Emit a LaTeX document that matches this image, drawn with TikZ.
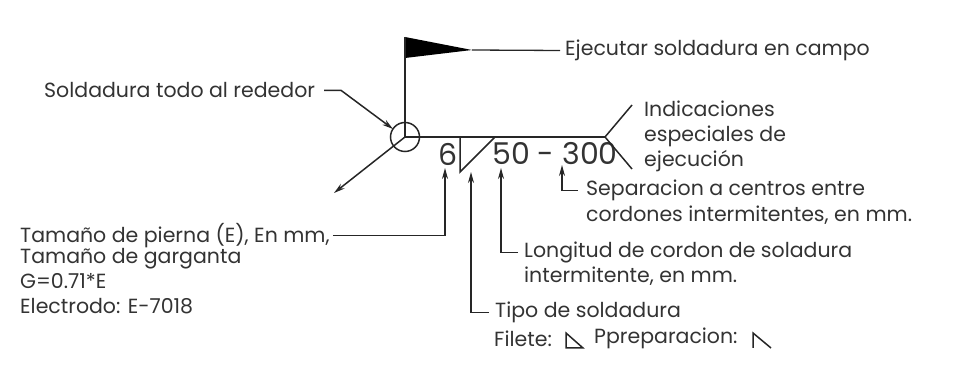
\documentclass[tikz,border=0pt]{standalone}
\usepackage{fontspec}
\setmainfont{Poppins}
\usetikzlibrary{arrows.meta, positioning}

\begin{document}
\begin{tikzpicture}[
  x=1pt, y=-1pt,
  label/.style={anchor=west, inner sep=0pt, yshift=-1.5pt, align=left, text=black!80, font=\fontsize{20.5}{25}\selectfont},
  size/.style={anchor=center, inner sep=0pt, text=black!80, font=\fontsize{30}{30}\selectfont},
  line/.style={line width=1.3pt, black!85},
  symbol/.style={line width=1.5pt, black!85},
  arrow/.style={-{Stealth[length=11pt, width=6pt]}, line width=1.5pt, black!85}
]
\useasboundingbox (0,0) rectangle (970,371);

% texts
\node[label] (campo) at (565,49) {Ejecutar soldadura en campo};
\node[label] (rededor) at (44,89) {Soldadura todo al rededor};
\node[label] (indica) at (644,135) {Indicaciones\\especiales de\\ejecuci\'on};
\node[label] (sepa) at (586,189) {Separacion a centros entre};
\node[label] (sepb) at (586,214) {cordones intermitentes, en mm.};
\node[label] (longa) at (524,251) {Longitud de cordon de soladura};
\node[label] (longb) at (524,275) {intermitente, en mm.};
\node[label] (tipo) at (495,311) {Tipo de soldadura};
\node[label] (filete) at (494,337) {Filete:};
\node[label] (prep) at (594,337) {Ppreparacion:};
\node[label] (tama) at (20,234) {Tama\~no de pierna (E), En mm,};
\node[label, anchor=north west] (tamb) at (20,247) {Tama\~no de garganta\\G=0.71*E\\Electrodo: E-7018};

\node[size] (six) at (448,154) {6};
\node[size] (dist) at (555,154) {50 - 300};

% symbol
\coordinate (root) at (405,137);
\coordinate (tail) at (605,137);
\coordinate (pole) at (405,37);
\coordinate (flagtip) at (472,50);
\node[draw, circle, symbol, minimum size=29pt, inner sep=0pt] (allround) at (root) {};
\fill[black] (pole) -- (flagtip) -- (405,58) -- cycle;
\draw[symbol] (pole) -- (root);
\draw[line width=1.8pt, black!85] (root) -- (tail);
\draw[symbol] (tail) -- (632,105);
\draw[symbol] (tail) -- (632,169);
\draw[symbol] (460,137) -- (460,172) -- (495,137);
\draw[arrow] (root) -- (334,193);

% leaders
\draw[line] (flagtip) -- ([xshift=-5pt]campo.west);
\draw[arrow] ([xshift=9pt]rededor.east) -- +(17,0) -- (393,129);
\draw[arrow] ([xshift=3pt]tama.east) -| (445,168);
\draw[arrow] ([xshift=-6pt]tipo.west) -| (471,172);
\draw[arrow] ([xshift=-6pt]longa.west) -| (501,168);
\draw[arrow] ([xshift=-8pt]sepa.west) -| (562,165);

% small marks
\draw[symbol] (566,333) -- (566,348) -- (583,348) -- cycle;
\draw[symbol] (753,348) -- (753,333) -- (771,348);
\end{tikzpicture}
\end{document}
